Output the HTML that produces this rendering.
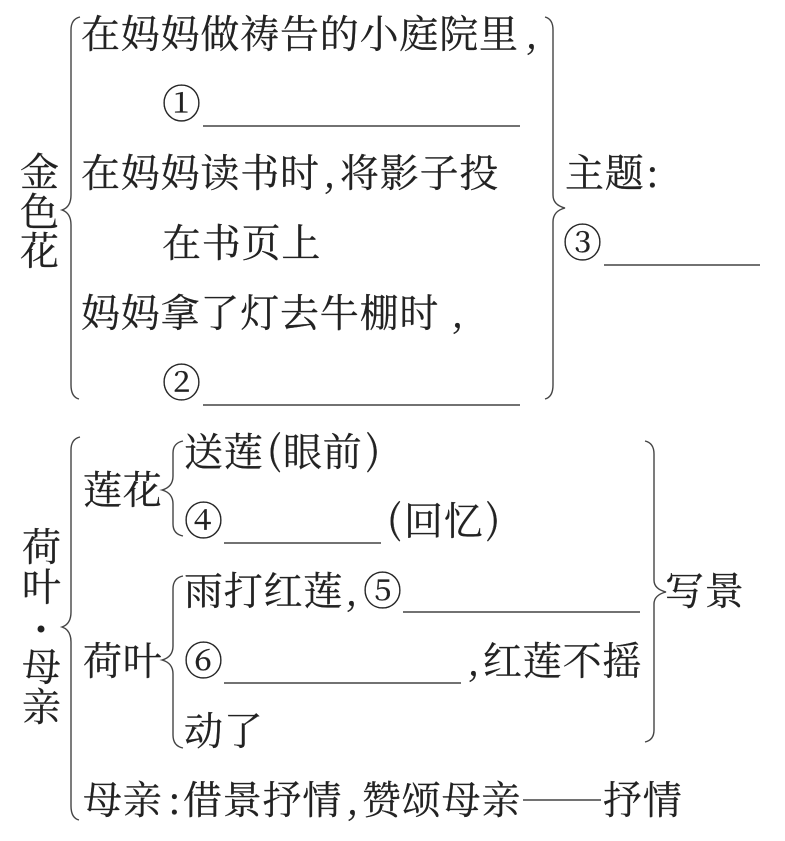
<!DOCTYPE html>
<html lang="zh">
<head>
<meta charset="utf-8">
<style>
html,body{margin:0;padding:0;background:#fff}
svg{display:block}
text{font-family:"Noto Serif CJK SC","Liberation Serif",serif;font-size:39px;letter-spacing:.8px;fill:#222;stroke:#222;stroke-width:.25}
.l{stroke:#444;stroke-width:1.4;fill:none}
</style>
</head>
<body>
<svg width="785" height="841" viewBox="0 0 785 841" xmlns="http://www.w3.org/2000/svg">
<rect width="785" height="841" fill="#fff"/>

<path class="l" d="M80 17 Q71 19 71 30 L71 195 Q71 207 62 210 Q71 213 71 225 L71 385 Q71 397 79 399"/>
<path class="l" d="M545 17 Q553 19 553 30 L553 195 Q553 205 565 208 Q553 211 553 222 L553 385 Q553 397 545 399"/>

<text x="20" y="186">金</text>
<text x="20" y="226">色</text>
<text x="20" y="265">花</text>

<text x="81" y="48">在妈妈做祷告的小庭院里</text>
<text x="525" y="48">,</text>
<text x="162" y="118">①</text>
<line class="l" x1="203" y1="126" x2="520" y2="126"/>
<text x="81" y="187">在妈妈读书时</text>
<text x="323" y="187">,</text>
<text x="340" y="187">将影子投</text>
<text x="162" y="257">在书页上</text>
<text x="81" y="327">妈妈拿了灯去牛棚时</text>
<text x="451" y="327">,</text>
<text x="162" y="397">②</text>
<line class="l" x1="203" y1="405" x2="520" y2="405"/>

<text x="565" y="187">主题</text>
<text x="646" y="187">:</text>
<text x="563" y="257">③</text>
<line class="l" x1="604" y1="265" x2="760" y2="265"/>

<path class="l" d="M80 437 Q71 439 71 450 L71 612 Q71 624 62 627 Q71 630 71 642 L71 806 Q71 818 79 820"/>
<path class="l" d="M183 441 Q173 443 173 453 L173 476 Q173 487 162 490 Q173 493 173 504 L173 524 Q173 534 183 536"/>
<path class="l" d="M183 576 Q173 578 173 589 L173 646 Q173 657 162 660 Q173 663 173 674 L173 735 Q173 746 183 748"/>
<path class="l" d="M645 441 Q654 443 654 454 L654 580 Q654 589 666 592 Q654 595 654 604 L654 730 Q654 740 645 742"/>

<text x="22" y="561">荷</text>
<text x="22" y="601">叶</text>
<circle cx="41" cy="629" r="3.5" fill="#222"/>
<text x="22" y="681">母</text>
<text x="22" y="721">亲</text>

<text x="83" y="504">莲花</text>
<text x="184" y="466">送莲</text>
<text x="267" y="464">(</text>
<text x="283" y="466">眼前</text>
<text x="366" y="464">)</text>
<text x="184" y="535">④</text>
<line class="l" x1="224" y1="543" x2="381" y2="543"/>
<text x="387" y="533">(</text>
<text x="404" y="535">回忆</text>
<text x="486" y="533">)</text>

<text x="83" y="675">荷叶</text>
<text x="184" y="605">雨打红莲</text>
<text x="345" y="605">,</text>
<text x="363" y="605">⑤</text>
<line class="l" x1="403" y1="612" x2="640" y2="612"/>
<text x="184" y="675">⑥</text>
<line class="l" x1="224" y1="683" x2="461" y2="683"/>
<text x="467" y="675">,</text>
<text x="483" y="675">红莲不摇</text>
<text x="184" y="745">动了</text>

<text x="665" y="605">写景</text>

<text x="83" y="814">母亲</text>
<text x="168" y="814">:</text>
<text x="183" y="814">借景抒情</text>
<text x="346" y="814">,</text>
<text x="362" y="814">赞颂母亲</text>
<line class="l" x1="523" y1="800" x2="601" y2="800"/>
<text x="603" y="814">抒情</text>
</svg>
</body>
</html>
